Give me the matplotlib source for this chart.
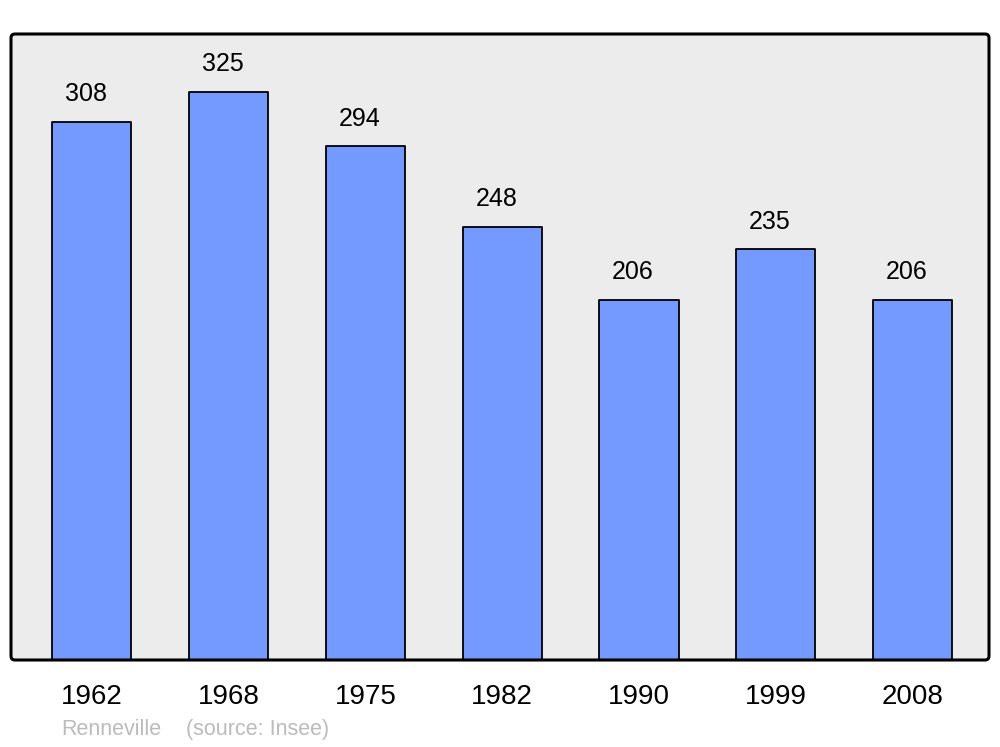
import matplotlib
matplotlib.use("Agg")
import matplotlib.pyplot as plt
from matplotlib.patches import FancyBboxPatch
from matplotlib.transforms import IdentityTransform

years = ["1962", "1968", "1975", "1982", "1990", "1999", "2008"]
population = [308, 325, 294, 248, 206, 235, 206]

plt.rcParams['font.family'] = ['Liberation Sans', 'DejaVu Sans']

fig = plt.figure(figsize=(10, 7.47), dpi=100)
ax = fig.add_axes([0.011, 0.1165, 0.978, 0.838])
ax.set_facecolor('#ececec')

x = list(range(len(years)))
bars = ax.bar(x, population, width=0.578, color='#7499ff', edgecolor='black',
              linewidth=1.3, zorder=2)
for b in bars:
    b.set_joinstyle('round')

for xi, v in zip(x, population):
    ax.annotate(str(v), (xi, v), xytext=(-4.3, 20), textcoords='offset points',
                ha='center', va='center', fontsize=18, color='black')

ax.set_xlim(-0.592, 6.559)
ax.set_ylim(0, 358.3)
ax.set_xticks(x)
ax.set_xticklabels(years, fontsize=20)
ax.tick_params(axis='x', length=0, pad=17)
ax.set_yticks([])
for s in ax.spines.values():
    s.set_visible(False)

frame = FancyBboxPatch((11, 87), 978, 626, boxstyle="round,pad=0,rounding_size=4",
                       transform=IdentityTransform(), fill=False, edgecolor='black',
                       linewidth=2.2, zorder=5)
fig.patches.append(frame)

fig.text(0.061, 0.0228, "Renneville", fontsize=15.5, color='#bbbbbb', va='center', ha='left')
fig.text(0.186, 0.0228, "(source: Insee)", fontsize=15.5, color='#bbbbbb', va='center', ha='left')

fig.savefig('out.png', dpi=100, facecolor='white')
